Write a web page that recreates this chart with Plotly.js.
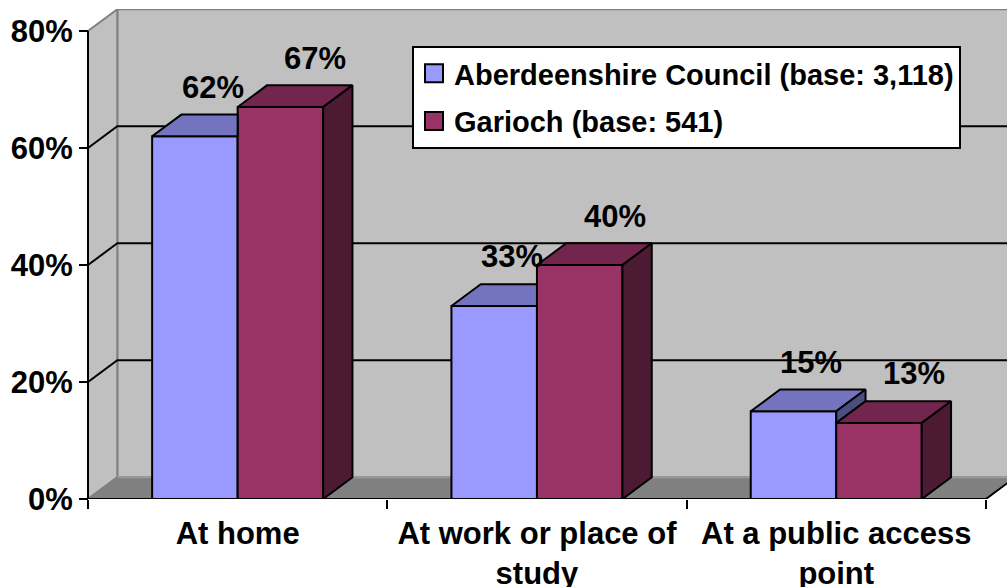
<!DOCTYPE html>
<html>
<head>
<meta charset="utf-8">
<script src="https://cdn.plot.ly/plotly-3.0.1.min.js"></script>
<style>
  html, body { margin: 0; padding: 0; background: #ffffff; }
  #chart { width: 1007px; height: 587px; }
</style>
</head>
<body>
<div id="chart"></div>
<script>
// ---------------- data ----------------
const categories = ['At home', 'At work or place of<br>study', 'At a public access<br>point'];
const seriesNames = ['Aberdeenshire Council (base: 3,118)', 'Garioch (base: 541)'];
const aberdeenshire = [62, 33, 15];
const garioch = [67, 40, 13];
const yTickValues = [0, 20, 40, 60, 80];
const yTickLabels = ['0%', '20%', '40%', '60%', '80%'];

// ---------------- style ----------------
const seriesValues = [aberdeenshire, garioch];
const seriesColors = ['#9999ff', '#993366'];
const FONT = 'Liberation Sans, Arial, Helvetica, sans-serif';
const W = 1007, H = 587;
const ML = 78, MR = 0, MT = 9, MB = 88;
const CAT_PX = 299.3;          // pixels per category
const PCT_PX = 5.85;           // pixels per percent
const DEPTH_PX_X = 29.3, DEPTH_PX_Y = 21.7;
const DX = DEPTH_PX_X / CAT_PX;    // depth offset in x units
const DY = DEPTH_PX_Y / PCT_PX;    // depth offset in y units
const plotW = W - ML - MR, plotH = H - MT - MB;
const xStart = -0.5 - 10 / CAT_PX;
const xRange = [xStart, xStart + plotW / CAT_PX];
const yRange = [0, plotH / PCT_PX];
const yMax = yTickValues[yTickValues.length - 1];
const nCat = categories.length;
const xLeft = -0.5, xRight = nCat - 0.5, xFar = nCat + 1;
const barW = 0.2857;
const barOffsets = [-barW / 2, barW / 2];
const labelXShift = [18, 35];
const labelYShift = 49;
const TXT = 31;

function shade(hex, f) {
  const n = parseInt(hex.slice(1), 16);
  const r = Math.round(((n >> 16) & 255) * f);
  const g = Math.round(((n >> 8) & 255) * f);
  const b = Math.round((n & 255) * f);
  return 'rgb(' + r + ',' + g + ',' + b + ')';
}

function face(pts, color) {
  const xs = pts.map(p => p[0]); const ys = pts.map(p => p[1]);
  xs.push(pts[0][0]); ys.push(pts[0][1]);
  return {
    type: 'scatter', mode: 'lines', x: xs, y: ys, fill: 'toself',
    fillcolor: color, line: { color: '#000000', width: 2 },
    hoverinfo: 'skip', showlegend: false
  };
}

// ---------------- traces ----------------
const traces = [];
// front faces: real bar traces
seriesValues.forEach((vals, s) => {
  traces.push({
    type: 'bar', name: seriesNames[s], legendgroup: 'g' + s,
    x: categories.map((c, i) => i), y: vals,
    marker: { color: seriesColors[s], line: { color: '#000000', width: 2 } },
    hoverinfo: 'skip'
  });
});
// top and side faces (only visible parts)
seriesValues.forEach((vals, s) => {
  vals.forEach((v, i) => {
    const c = i + barOffsets[s];
    const x0 = c - barW / 2, x1 = c + barW / 2;
    const topC = shade(seriesColors[s], 0.75);
    const sideC = shade(seriesColors[s], 0.5);
    const hasNb = s + 1 < seriesValues.length;
    const nb = hasNb ? seriesValues[s + 1][i] : 0;
    // top face
    if (hasNb && nb > v) {
      const gg = Math.min(nb, v + DY);
      traces.push(face([[x0, v], [x1, v], [x1, gg], [x1 + (v + DY - gg) * DX / DY, v + DY], [x0 + DX, v + DY]], topC));
    } else {
      traces.push(face([[x0, v], [x1, v], [x1 + DX, v + DY], [x0 + DX, v + DY]], topC));
    }
    // side face
    if (!hasNb) {
      traces.push(face([[x1, 0], [x1 + DX, DY], [x1 + DX, v + DY], [x1, v]], sideC));
    } else if (nb < v) {
      traces.push(face([[x1, nb], [x1 + DX, nb + DY], [x1 + DX, v + DY], [x1, v]], sideC));
    }
  });
});

// ---------------- walls (shapes) ----------------
function pathOf(pts, close) {
  return pts.map((p, k) => (k ? 'L' : 'M') + p[0] + ',' + p[1]).join(' ') + (close ? ' Z' : '');
}
const shapes = [];
shapes.push({ type: 'rect', xref: 'x', yref: 'y', layer: 'below', x0: xLeft + DX, x1: xFar, y0: DY, y1: yMax + DY,
  fillcolor: '#c0c0c0', line: { color: '#808080', width: 2 } });
shapes.push({ type: 'path', xref: 'x', yref: 'y', layer: 'below',
  path: pathOf([[xLeft, 0], [xLeft + DX, DY], [xLeft + DX, yMax + DY], [xLeft, yMax]], true),
  fillcolor: '#c0c0c0', line: { color: '#808080', width: 2 } });
shapes.push({ type: 'path', xref: 'x', yref: 'y', layer: 'below',
  path: pathOf([[xLeft, 0], [xRight, 0], [xRight + DX, DY], [xLeft + DX, DY]], true),
  fillcolor: '#808080', line: { width: 0 } });
shapes.push({ type: 'path', xref: 'x', yref: 'y', layer: 'below',
  path: pathOf([[xLeft + DX, DY], [xFar, DY]], false), line: { color: '#9a9a9a', width: 2 } });
shapes.push({ type: 'path', xref: 'x', yref: 'y', layer: 'below',
  path: pathOf([[xLeft, 0], [xLeft + DX, DY]], false), line: { color: '#808080', width: 2 } });
yTickValues.slice(1, -1).forEach(v => {
  shapes.push({ type: 'path', xref: 'x', yref: 'y', layer: 'below',
    path: pathOf([[xLeft, v], [xLeft + DX, v + DY], [xFar, v + DY]], false),
    line: { color: '#000000', width: 2 } });
});
shapes.push({ type: 'path', xref: 'x', yref: 'y', layer: 'below',
  path: pathOf([[xLeft, yMax], [xLeft, 0], [xRight, 0], [xRight + DX, DY]], false),
  line: { color: '#000000', width: 2 } });

// ---------------- value labels ----------------
const annotations = [];
seriesValues.forEach((vals, s) => {
  vals.forEach((v, i) => {
    annotations.push({
      xref: 'x', yref: 'y', x: i + barOffsets[s], y: v, text: v + '%',
      showarrow: false, xanchor: 'center', yanchor: 'middle',
      xshift: labelXShift[s], yshift: labelYShift,
      font: { family: FONT, size: TXT, color: '#000000', weight: 'bold' }
    });
  });
});

const layout = {
  width: W, height: H,
  margin: { l: ML, r: MR, t: MT, b: MB, pad: 0 },
  paper_bgcolor: '#ffffff', plot_bgcolor: '#ffffff',
  barmode: 'group', bargap: 1 - 2 * barW, bargroupgap: 0,
  showlegend: true,
  legend: {
    x: (412 - ML) / plotW, y: (H - MB - 46) / plotH, xanchor: 'left', yanchor: 'top',
    bgcolor: '#ffffff', bordercolor: '#000000', borderwidth: 2,
    traceorder: 'grouped', tracegroupgap: 7,
    font: { family: FONT, size: 29, color: '#000000', weight: 'bold' }
  },
  xaxis: {
    type: 'linear', range: xRange, fixedrange: true,
    showgrid: false, zeroline: false, showline: false,
    tickmode: 'array', tickvals: categories.map((c, i) => i), ticktext: categories,
    ticks: '', ticklabelstandoff: 13,
    tickfont: { family: FONT, size: TXT, color: '#000000', weight: 'bold' },
    minor: { tickmode: 'linear', tick0: -0.5, dtick: 1, ticks: 'outside', ticklen: 9, tickwidth: 2, tickcolor: '#000000', showgrid: false }
  },
  yaxis: {
    type: 'linear', range: yRange, fixedrange: true,
    anchor: 'free', position: (88 - ML) / plotW,
    showgrid: false, zeroline: false, showline: false,
    tickmode: 'array', tickvals: yTickValues, ticktext: yTickLabels,
    ticks: 'outside', ticklen: 9, tickwidth: 2, tickcolor: '#000000',
    tickfont: { family: FONT, size: TXT, color: '#000000', weight: 'bold' }
  },
  shapes: shapes,
  annotations: annotations
};

Plotly.newPlot('chart', traces, layout, { displayModeBar: false, staticPlot: true }).then(() => {
  document.querySelectorAll('.legend .legendpoints path').forEach(p => {
    p.setAttribute('d', 'M9,9H-9V-9H9Z');
  });
});
</script>
</body>
</html>
